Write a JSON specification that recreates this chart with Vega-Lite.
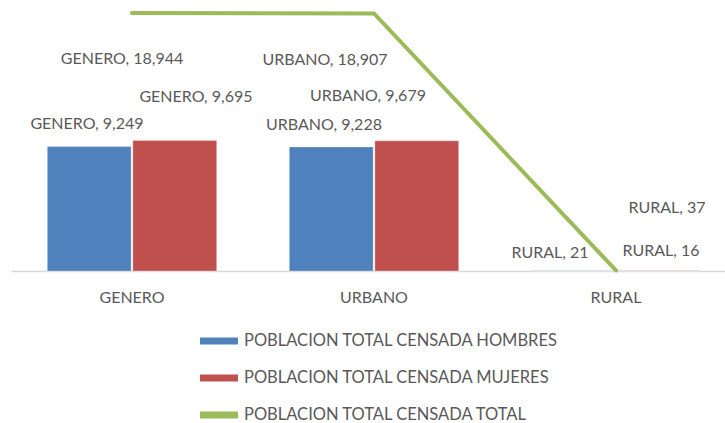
{
  "$schema": "https://vega.github.io/schema/vega-lite/v6.json",
  "autosize": {"type": "none"},
  "padding": {"left": 11, "top": 2, "right": 0, "bottom": 152},
  "width": 714,
  "height": 269,
  "background": "white",
  "config": {
    "view": {"stroke": null},
    "font": "Lato",
    "text": {"font": "Lato", "fontSize": 16, "color": "#595959", "baseline": "middle", "align": "center"}
  },
  "data": {
    "values": [
      {"categoria": "GENERO", "serie": "POBLACION TOTAL CENSADA HOMBRES", "valor": 9249, "etiqueta": "GENERO, 9,249"},
      {"categoria": "URBANO", "serie": "POBLACION TOTAL CENSADA HOMBRES", "valor": 9228, "etiqueta": "URBANO, 9,228"},
      {"categoria": "RURAL", "serie": "POBLACION TOTAL CENSADA HOMBRES", "valor": 21, "etiqueta": "RURAL, 21"},
      {"categoria": "GENERO", "serie": "POBLACION TOTAL CENSADA MUJERES", "valor": 9695, "etiqueta": "GENERO, 9,695"},
      {"categoria": "URBANO", "serie": "POBLACION TOTAL CENSADA MUJERES", "valor": 9679, "etiqueta": "URBANO, 9,679"},
      {"categoria": "RURAL", "serie": "POBLACION TOTAL CENSADA MUJERES", "valor": 16, "etiqueta": "RURAL, 16"},
      {"categoria": "GENERO", "serie": "POBLACION TOTAL CENSADA TOTAL", "valor": 18944, "etiqueta": "GENERO, 18,944"},
      {"categoria": "URBANO", "serie": "POBLACION TOTAL CENSADA TOTAL", "valor": 18907, "etiqueta": "URBANO, 18,907"},
      {"categoria": "RURAL", "serie": "POBLACION TOTAL CENSADA TOTAL", "valor": 37, "etiqueta": "RURAL, 37"}
    ]
  },
  "encoding": {
    "x": {
      "field": "categoria",
      "type": "nominal",
      "sort": ["GENERO", "URBANO", "RURAL"],
      "scale": {"range": [0, 726], "paddingInner": 0.3, "paddingOuter": 0.15},
      "axis": {
        "title": null,
        "ticks": false,
        "grid": false,
        "domainColor": "#d9d9d9",
        "domainWidth": 1.5,
        "labelFont": "Lato",
        "labelFontSize": 16,
        "labelColor": "#595959",
        "labelPadding": 18,
        "labelAngle": 0
      }
    }
  },
  "layer": [
    {
      "transform": [{"filter": "datum.serie !== 'POBLACION TOTAL CENSADA TOTAL'"}],
      "mark": {"type": "bar", "stroke": "#ffffff", "strokeWidth": 0.5, "strokeOpacity": 0.6},
      "encoding": {
        "xOffset": {"field": "serie", "type": "nominal", "scale": {"paddingInner": 0.02}},
        "y": {"field": "valor", "type": "quantitative", "scale": {"domain": [0, 20000]}, "axis": null},
        "color": {
          "field": "serie",
          "type": "nominal",
          "scale": {
            "domain": ["POBLACION TOTAL CENSADA HOMBRES", "POBLACION TOTAL CENSADA MUJERES", "POBLACION TOTAL CENSADA TOTAL"],
            "range": ["#4f81bd", "#c0504d", "#9bbb59"]
          },
          "legend": {
            "title": null,
            "orient": "none",
            "legendX": 189,
            "legendY": 320,
            "direction": "vertical",
            "symbolType": "M-1,-0.18H1V0.18H-1Z",
            "symbolSize": 1444,
            "symbolStrokeWidth": 0,
            "labelFont": "Lato",
            "labelFontSize": 16.5,
            "labelColor": "#595959",
            "labelOffset": 6,
            "labelLimit": 500,
            "rowPadding": 9
          }
        }
      }
    },
    {
      "transform": [{"filter": "datum.serie === 'POBLACION TOTAL CENSADA TOTAL'"}],
      "mark": {"type": "line", "color": "#9bbb59", "strokeWidth": 4, "strokeCap": "round", "strokeJoin": "miter"},
      "encoding": {
        "y": {"field": "valor", "type": "quantitative", "scale": {"domain": [0, 19750]}, "axis": null}
      }
    },
    {
      "transform": [{"filter": "datum.etiqueta === 'GENERO, 18,944'"}],
      "mark": {"type": "text", "dx": -10, "dy": 43},
      "encoding": {"y": {"field": "valor", "type": "quantitative", "scale": {"domain": [0, 20000]}, "axis": null}, "text": {"field": "etiqueta"}}
    },
    {
      "transform": [{"filter": "datum.etiqueta === 'URBANO, 18,907'"}],
      "mark": {"type": "text", "dx": -49, "dy": 43},
      "encoding": {"y": {"field": "valor", "type": "quantitative", "scale": {"domain": [0, 20000]}, "axis": null}, "text": {"field": "etiqueta"}}
    },
    {
      "transform": [{"filter": "datum.etiqueta === 'RURAL, 37'"}],
      "mark": {"type": "text", "dx": 51, "dy": -63},
      "encoding": {"y": {"field": "valor", "type": "quantitative", "scale": {"domain": [0, 20000]}, "axis": null}, "text": {"field": "etiqueta"}}
    },
    {
      "transform": [{"filter": "datum.etiqueta === 'GENERO, 9,249'"}],
      "mark": {"type": "text", "dx": -45, "dy": -23},
      "encoding": {"y": {"field": "valor", "type": "quantitative", "scale": {"domain": [0, 20000]}, "axis": null}, "text": {"field": "etiqueta"}}
    },
    {
      "transform": [{"filter": "datum.etiqueta === 'URBANO, 9,228'"}],
      "mark": {"type": "text", "dx": -50, "dy": -22},
      "encoding": {"y": {"field": "valor", "type": "quantitative", "scale": {"domain": [0, 20000]}, "axis": null}, "text": {"field": "etiqueta"}}
    },
    {
      "transform": [{"filter": "datum.etiqueta === 'RURAL, 21'"}],
      "mark": {"type": "text", "dx": -66, "dy": -18},
      "encoding": {"y": {"field": "valor", "type": "quantitative", "scale": {"domain": [0, 20000]}, "axis": null}, "text": {"field": "etiqueta"}}
    },
    {
      "transform": [{"filter": "datum.etiqueta === 'GENERO, 9,695'"}],
      "mark": {"type": "text", "dx": 64, "dy": -44},
      "encoding": {"y": {"field": "valor", "type": "quantitative", "scale": {"domain": [0, 20000]}, "axis": null}, "text": {"field": "etiqueta"}}
    },
    {
      "transform": [{"filter": "datum.etiqueta === 'URBANO, 9,679'"}],
      "mark": {"type": "text", "dx": -6, "dy": -45},
      "encoding": {"y": {"field": "valor", "type": "quantitative", "scale": {"domain": [0, 20000]}, "axis": null}, "text": {"field": "etiqueta"}}
    },
    {
      "transform": [{"filter": "datum.etiqueta === 'RURAL, 16'"}],
      "mark": {"type": "text", "dx": 45, "dy": -20},
      "encoding": {"y": {"field": "valor", "type": "quantitative", "scale": {"domain": [0, 20000]}, "axis": null}, "text": {"field": "etiqueta"}}
    }
  ],
  "resolve": {"scale": {"y": "independent"}}
}
